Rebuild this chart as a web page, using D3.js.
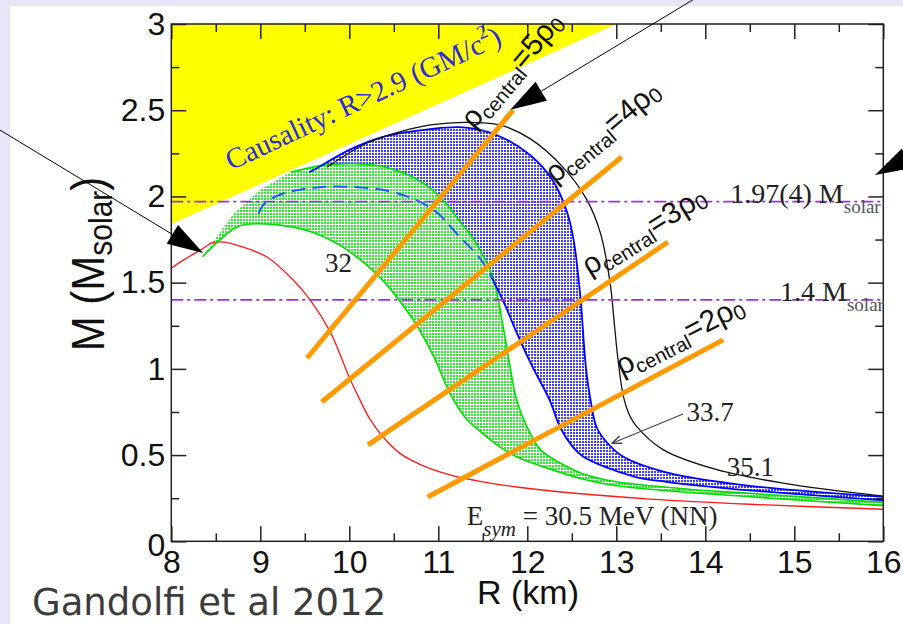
<!DOCTYPE html>
<html>
<head>
<meta charset="utf-8">
<script src="https://cdnjs.cloudflare.com/ajax/libs/d3/7.8.5/d3.min.js"></script>
<style>
  body { margin: 0; background: #e6e6f8; }
  svg { display: block; }
</style>
</head>
<body>
<svg width="903" height="624"></svg>
<script>
// ---- data (R in km, M in solar masses) ----
const xMajor = [8, 9, 10, 11, 12, 13, 14, 15, 16];
const xMinor = [8.5, 9.5, 10.5, 11.5, 12.5, 13.5, 14.5, 15.5];
const yMajor = [0, 0.5, 1, 1.5, 2, 2.5, 3];
const yMinor = [0.25, 0.75, 1.25, 1.75, 2.25, 2.75];

const causality = [[8, 1.84], [8, 3], [13, 3]];

const red = [[8, 1.585], [8.15, 1.635], [8.33, 1.69], [8.47, 1.733], [8.6, 1.735], [8.75, 1.715],
  [9.07, 1.65], [9.37, 1.515], [9.56, 1.4], [9.79, 1.21], [10.0, 0.95], [10.12, 0.82], [10.23, 0.71],
  [10.38, 0.605], [10.57, 0.51], [10.8, 0.445], [11.13, 0.385], [11.5, 0.345], [11.88, 0.315],
  [12.5, 0.28], [13.38, 0.245], [14.5, 0.215], [16, 0.186]];

const greenEdge = [[8.35, 1.65], [8.7, 1.9], [9.0, 2.04], [9.34, 2.14]];
const greenUp = [[9.34, 2.14], [9.7, 2.18], [10.05, 2.19], [10.4, 2.17], [10.72, 2.11], [10.94, 2.035],
  [11.1, 1.95], [11.25, 1.85], [11.4, 1.75], [11.5, 1.66], [11.62, 1.52], [11.73, 1.24], [11.8, 1.03],
  [11.88, 0.82], [12.0, 0.66], [12.15, 0.53], [12.4, 0.445], [12.63, 0.39], [13.0, 0.345],
  [13.75, 0.305], [14.5, 0.278], [16, 0.226]];
const greenLow = [[8.35, 1.65], [8.55, 1.75], [8.77, 1.83], [9.2, 1.835], [9.6, 1.79], [9.9, 1.715],
  [10.2, 1.6], [10.4, 1.5], [10.6, 1.37], [10.76, 1.25], [10.95, 1.07], [11.13, 0.86], [11.3, 0.72],
  [11.5, 0.625], [11.7, 0.545], [11.88, 0.49], [12.25, 0.42], [12.63, 0.36], [13.0, 0.322],
  [14.5, 0.258], [16, 0.207]];

const blueUp = [[9.55, 2.14], [9.64, 2.165], [10.0, 2.27], [10.38, 2.345], [10.91, 2.39], [11.28, 2.4],
  [11.66, 2.355], [12.03, 2.24], [12.29, 2.09], [12.44, 1.92], [12.52, 1.75], [12.57, 1.55], [12.6, 1.4],
  [12.66, 1.0], [12.71, 0.82], [12.78, 0.66], [12.9, 0.57], [13.08, 0.49], [13.56, 0.4],
  [14.5, 0.322], [16, 0.258]];
const blueDash = [[8.98, 1.9], [9.05, 1.96], [9.22, 2.01], [9.6, 2.05], [10.05, 2.055], [10.53, 2.02],
  [10.94, 1.925], [11.25, 1.76], [11.47, 1.64], [11.6, 1.53]];
const blueLow = [[11.6, 1.53], [11.75, 1.37], [11.88, 1.21], [12.05, 1.02], [12.25, 0.82], [12.37, 0.66],
  [12.5, 0.555], [12.63, 0.49], [13.2, 0.375], [13.56, 0.345], [14.5, 0.295], [16, 0.238]];

const black = [[9.75, 2.17], [10.2, 2.31], [10.57, 2.375], [10.91, 2.415], [11.3, 2.43], [11.69, 2.415],
  [12.03, 2.335], [12.4, 2.17], [12.67, 1.98], [12.82, 1.79], [12.93, 1.5], [12.98, 1.25], [13.02, 1.05],
  [13.08, 0.84], [13.15, 0.73], [13.23, 0.665], [13.53, 0.53], [14.13, 0.415], [14.87, 0.338], [16, 0.262]];

const refMasses = [1.97, 1.4];

// central density lines: [start, end]
const densityLines = [
  { label: "5", from: [9.525, 1.063], to: [11.84, 2.501], at: [11.4, 2.385], angle: -50 },
  { label: "4", from: [9.69, 0.808], to: [13.06, 2.229], at: [12.31, 2.071], angle: -40 },
  { label: "3", from: [10.21, 0.559], to: [13.58, 1.736], at: [12.70, 1.538], angle: -32 },
  { label: "2", from: [10.88, 0.257], to: [14.2, 1.168], at: [13.06, 0.958], angle: -27 }
];

// slide annotation arrows [tail, tip]
const arrows = [
  { from: [6.075, 2.385], to: [8.358, 1.672] },
  { from: [13.86, 3.14], to: [11.81, 2.502] },
  { from: [17.0, 2.42], to: [15.907, 2.125] }
];

// ---- layout ----
const svg = d3.select("svg");
const margin = { left: 171.3, top: 24, right: 883.3, bottom: 541.3 };
const x = d3.scaleLinear().domain([8, 16]).range([margin.left, margin.right]);
const y = d3.scaleLinear().domain([0, 3]).range([margin.bottom, margin.top]);

const serif = "'Liberation Serif', 'Times New Roman', serif";
const sans = "'Liberation Sans', Arial, sans-serif";

// white slide panel
svg.append("rect").attr("x", 10).attr("y", 6).attr("width", 893).attr("height", 618).attr("fill", "#fff");

const defs = svg.append("defs");
defs.append("clipPath").attr("id", "plot").append("rect")
  .attr("x", margin.left).attr("y", margin.top)
  .attr("width", margin.right - margin.left).attr("height", margin.bottom - margin.top);

function addPattern(id, color) {
  const p = defs.append("pattern").attr("id", id).attr("patternUnits", "userSpaceOnUse")
    .attr("width", 3).attr("height", 3);
  p.append("rect").attr("width", 3).attr("height", 3).attr("fill", "#fff");
  p.append("rect").attr("width", 2).attr("height", 2).attr("fill", color);
}
addPattern("pg", "#2aee2a");
addPattern("pb", "#3c3cff");

const line = d3.line().x(d => x(d[0])).y(d => y(d[1])).curve(d3.curveCatmullRom.alpha(0.5));
const straight = d3.line().x(d => x(d[0])).y(d => y(d[1]));
const join = (...parts) => parts.map((p, i) => i ? p.replace(/^M/, "L") : p).join("") + "Z";

const plot = svg.append("g").attr("clip-path", "url(#plot)");

// causality region
plot.append("path").attr("d", straight(causality) + "Z").attr("fill", "#ffff00");

// hatched bands
plot.append("path")
  .attr("d", join(line(blueUp), line(blueLow.slice().reverse()), line(blueDash.slice().reverse())))
  .attr("fill", "url(#pb)");
plot.append("path")
  .attr("d", join(straight(greenEdge), line(greenUp), line(greenLow.slice().reverse())))
  .attr("fill", "url(#pg)");

// curves
const curves = [
  { pts: red, color: "#ff1a1a", w: 1.3 },
  { pts: greenLow, color: "#00dd00", w: 1.6 },
  { pts: greenUp, color: "#00dd00", w: 1.6 },
  { pts: blueUp, color: "#0000ff", w: 1.8 },
  { pts: blueLow, color: "#0000ff", w: 1.8 },
  { pts: black, color: "#111", w: 1.3 }
];
plot.selectAll(".curve").data(curves).join("path")
  .attr("class", "curve")
  .attr("d", d => line(d.pts))
  .attr("fill", "none").attr("stroke", d => d.color).attr("stroke-width", d => d.w);

plot.append("path").attr("d", line(blueDash)).attr("fill", "none")
  .attr("stroke", "#2255ff").attr("stroke-width", 2).attr("stroke-dasharray", "14,7");

// reference masses
plot.selectAll(".ref").data(refMasses).join("line")
  .attr("x1", x(8)).attr("x2", x(16)).attr("y1", d => y(d)).attr("y2", d => y(d))
  .attr("stroke", "#9933dd").attr("stroke-width", 1.6).attr("stroke-dasharray", "12,4,3,4");

// orange central-density lines
plot.selectAll(".rho").data(densityLines).join("line")
  .attr("x1", d => x(d.from[0])).attr("y1", d => y(d.from[1]))
  .attr("x2", d => x(d.to[0])).attr("y2", d => y(d.to[1]))
  .attr("stroke", "#ff9a00").attr("stroke-width", 5);

// ---- frame & ticks ----
const frame = svg.append("g");
frame.append("rect").attr("x", margin.left).attr("y", margin.top)
  .attr("width", margin.right - margin.left).attr("height", margin.bottom - margin.top)
  .attr("fill", "none").attr("stroke", "#222").attr("stroke-width", 1.5);

function axis(gen, vals, len, tx, ty, labels) {
  const g = frame.append("g").attr("transform", `translate(${tx},${ty})`)
    .call(gen.tickValues(vals).tickSizeInner(-len).tickSizeOuter(0)
      .tickFormat(labels ? d3.format("") : "").tickPadding(labels ? 9 : 0));
  g.select(".domain").remove();
  g.selectAll(".tick line").attr("stroke", "#222").attr("stroke-width", 1.5);
  g.selectAll("text").attr("font-family", sans).attr("font-size", 32).attr("fill", "#111");
  return g;
}
axis(d3.axisBottom(x), xMajor, 15, 0, margin.bottom, true);
axis(d3.axisBottom(x), xMinor, 8, 0, margin.bottom, false);
axis(d3.axisTop(x), xMajor, 15, 0, margin.top, false);
axis(d3.axisTop(x), xMinor, 8, 0, margin.top, false);
const ya = axis(d3.axisLeft(y), yMajor, 15, margin.left, 0, true);
ya.selectAll("text").attr("x", -6);
ya.selectAll(".tick").filter(d => d === 0).select("text").attr("dy", "0.45em");
axis(d3.axisLeft(y), yMinor, 8, margin.left, 0, false);
axis(d3.axisRight(y), yMajor, 15, margin.right, 0, false);
axis(d3.axisRight(y), yMinor, 8, margin.right, 0, false);

// axis titles
svg.append("text").attr("x", 528).attr("y", 604).attr("text-anchor", "middle")
  .attr("font-family", sans).attr("font-size", 34).attr("fill", "#111").text("R (km)");
const yt = svg.append("text").attr("transform", "translate(104,264) rotate(-90) scale(1,1.12)")
  .attr("text-anchor", "middle").attr("font-family", sans).attr("font-size", 42).attr("fill", "#111");
yt.append("tspan").text("M (M");
yt.append("tspan").attr("font-size", 30).attr("dy", 7).text("solar");
yt.append("tspan").attr("dy", -7).text(")");

// ---- annotations inside the plot ----
const causal = svg.append("text")
  .attr("transform", `translate(${x(8.67)},${y(2.15)}) rotate(-25)`)
  .attr("font-family", serif).attr("font-size", 29).attr("fill", "#2b2bdd");
causal.append("tspan").text("Causality: R>2.9 (GM/c");
causal.append("tspan").attr("font-size", 19).attr("dy", -13).text("2");
causal.append("tspan").attr("dy", 13).text(")");

const serifLabels = [
  { t: "32", at: [9.727, 1.562] },
  { t: "33.7", at: [13.79, 0.698] },
  { t: "35.1", at: [14.24, 0.379] }
];
svg.selectAll(".slab").data(serifLabels).join("text")
  .attr("x", d => x(d.at[0])).attr("y", d => y(d.at[1]))
  .attr("font-family", serif).attr("font-size", 27).attr("fill", "#222").text(d => d.t);

// small arrow to the 33.7 band
defs.append("marker").attr("id", "ah").attr("viewBox", "0 0 10 10").attr("refX", 9).attr("refY", 5)
  .attr("markerWidth", 9).attr("markerHeight", 9).attr("orient", "auto")
  .append("path").attr("d", "M0,1 L10,5 L0,9").attr("fill", "none").attr("stroke", "#444").attr("stroke-width", 1.4);
svg.append("line").attr("x1", x(13.75)).attr("y1", y(0.738)).attr("x2", x(12.96)).attr("y2", y(0.57))
  .attr("stroke", "#444").attr("stroke-width", 1.1).attr("marker-end", "url(#ah)");

const esym = svg.append("text").attr("x", x(11.32)).attr("y", y(0.095))
  .attr("font-family", serif).attr("font-size", 27).attr("fill", "#222");
esym.append("tspan").text("E");
esym.append("tspan").attr("font-size", 21).attr("font-style", "italic").attr("dy", 11).text("sym");
esym.append("tspan").attr("dy", -11).text(" = 30.5 MeV (NN)");

const refLabels = [
  { t: "1.97(4) M", at: 14.28, m: 1.97 },
  { t: "1.4 M", at: 14.84, m: 1.4 }
];
refLabels.forEach(d => {
  const t = svg.append("text").attr("x", x(d.at)).attr("y", y(d.m) + 1)
    .attr("font-family", serif).attr("font-size", 28).attr("fill", "#222");
  t.append("tspan").text(d.t);
  t.append("tspan").attr("font-size", 19).attr("dy", 10).attr("fill", "#555").text("solar");
});

// central density labels
densityLines.forEach(d => {
  const t = svg.append("text")
    .attr("transform", `translate(${x(d.at[0])},${y(d.at[1])}) rotate(${d.angle})`)
    .attr("font-family", sans).attr("font-size", 30).attr("fill", "#111");
  t.append("tspan").text("ρ");
  t.append("tspan").attr("font-size", 20).attr("dy", 6).text("central");
  t.append("tspan").attr("dy", -6).text("=" + d.label + "ρ");
  t.append("tspan").attr("font-size", 21).attr("dy", 4).text("0");
});

// slide arrows
arrows.forEach(a => {
  const x0 = x(a.from[0]), y0 = y(a.from[1]), x1 = x(a.to[0]), y1 = y(a.to[1]);
  const len = Math.hypot(x1 - x0, y1 - y0), ux = (x1 - x0) / len, uy = (y1 - y0) / len;
  const L = 36, W = 11, bx = x1 - ux * L, by = y1 - uy * L;
  svg.append("line").attr("x1", x0).attr("y1", y0).attr("x2", bx).attr("y2", by)
    .attr("stroke", "#000").attr("stroke-width", 1);
  svg.append("path")
    .attr("d", `M${x1},${y1}L${bx - uy * W},${by + ux * W}L${bx + uy * W},${by - ux * W}Z`)
    .attr("fill", "#000");
});

// source
svg.append("text").attr("x", 32).attr("y", 615)
  .attr("font-family", "'DejaVu Sans', sans-serif").attr("font-size", 37).attr("fill", "#3c3c3c")
  .text("Gandolfi et al 2012");
</script>
</body>
</html>
